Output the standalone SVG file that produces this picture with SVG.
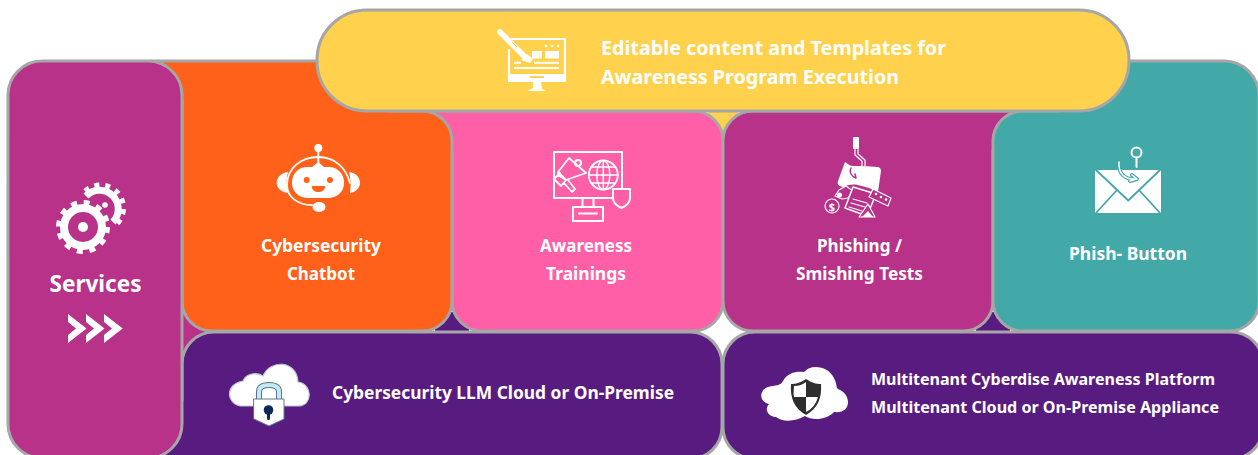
<svg xmlns="http://www.w3.org/2000/svg" width="1258" height="455" viewBox="0 0 1258 455">
<style>
svg{stroke-width:2;stroke-linecap:round;stroke-linejoin:round}
.card{stroke:#a6a6a6;stroke-width:3}
.t{font-family:"Noto Sans","Open Sans",sans-serif;font-weight:700;fill:#fff;stroke:none}
.w{fill:#fff;stroke:none}
.l{fill:none;stroke:#fff}
</style>
<rect width="1258" height="455" fill="#fff"/>
<g id="backing">
<rect x="435" y="312" width="34" height="26" fill="#581c80"/>
<rect x="976" y="312" width="34" height="26" fill="#581c80"/>
<rect x="170" y="295" width="50" height="70" fill="#b8328a"/>
<rect x="708" y="105" width="30" height="36" fill="#ffd14d"/>
</g>
<g id="llm-cloud">
<path class="card" d="M214 332H690A32 32 0 0 1 722 364V427A32 32 0 0 1 690 459H150V400H182V364A32 32 0 0 1 214 332Z" fill="#581c80"/>
<g id="cloud-lock">
<path d="M240 406C226 403 225 384 243 381C246 373 257 372 263 376C270 359 297 360 298 382C313 384 313 406 298 406Z" fill="#fff" stroke="#b9c7d2" stroke-width="1.200"/>
<path d="M259 400V392C259 387 263 385 269 385C275 385 279 387 279 392V400" fill="none" stroke="#58758c" stroke-width="6"/>
<path d="M259 400V392C259 387 263 385 269 385C275 385 279 387 279 392V400" fill="none" stroke="#c4e9f2" stroke-width="4"/>
<path d="M254 399H284V419L269 426L254 419Z" fill="#fff" stroke="#5d7a90" stroke-width="1"/>
<circle cx="268.500" cy="410" r="4.800" fill="#0a2a55"/>
<rect x="267" y="411" width="3" height="9" rx="1.500" fill="#0a2a55"/>
</g>
<text class="t" x="332" y="399" font-size="18" textLength="342" lengthAdjust="spacingAndGlyphs">Cybersecurity LLM Cloud or On-Premise</text>
</g>
<g id="platform">
<rect class="card" x="723" y="332" width="540" height="127" rx="32" fill="#581c80"/>
<g id="cloud-shield">
<path d="M776 417C766 416 765 408 769 404C758 402 758 387 773 386C780 385 781 384 783 381C788 372 797 371 804 372C810 364 828 365 834 378C838 386 835 388 840 390C852 396 851 414 834 412C827 420 812 421 805 416C795 422 782 422 776 417Z" fill="#fff"/>
<path d="M806 379C812 383 816 384 821 384C822 398 818 408 806 415C794 408 790 398 791 384C796 384 800 383 806 379Z" fill="#2e2e2e"/>
<path d="M806 382V397H794C793 393 794 390 794 386C798 386 802 385 806 382ZM806 397H818C816 404 812 409 806 412Z" fill="#fff"/>
</g>
<text class="t" x="871" y="385" font-size="16.500" textLength="344" lengthAdjust="spacingAndGlyphs">Multitenant Cyberdise Awareness Platform</text>
<text class="t" x="871" y="413" font-size="16.500" textLength="348" lengthAdjust="spacingAndGlyphs">Multitenant Cloud or On-Premise Appliance</text>
</g>
<g id="awareness-trainings">
<path class="card" d="M430 111H693A30 30 0 0 1 723 141V301A30 30 0 0 1 693 331H482A30 30 0 0 1 452 301V150H430Z" fill="#ff5fa6"/>
<g id="awareness-icon">
<rect class="l" x="554" y="152" width="68" height="46"/>
<path class="l" d="M582.500 198V207M593.500 198V207"/>
<rect class="l" x="573" y="207" width="30" height="14"/>
<path class="l" d="M579 213.500H597"/>
<path class="l" d="M569 158L586 173L566 180L558 172ZM558 172L558 175L566 180M560 175L559 172M564 183L572 192L575 189L568 180M560 173L554 179L561 186L566 180" stroke-width="1.800"/>
<circle class="l" cx="578" cy="163" r="3"/>
<circle class="l" cx="603.300" cy="175" r="14.500" stroke-width="1.800"/>
<ellipse class="l" cx="603.300" cy="175" rx="6.500" ry="14.500" stroke-width="1.500"/>
<path class="l" d="M588.800 175H617.800M591 167H615.500M591 183H615.500M603.300 160.500V189.500" stroke-width="1.500"/>
<path d="M613 189H630V198C630 203 626 206 621.500 208C617 206 613 203 613 198Z" fill="#ff5fa6" stroke="#fff" stroke-width="2"/>
</g>
<text class="t" x="540" y="252" font-size="18" textLength="92" lengthAdjust="spacingAndGlyphs">Awareness</text>
<text class="t" x="546" y="280" font-size="18" textLength="80" lengthAdjust="spacingAndGlyphs">Trainings</text>
</g>
<g id="phishing">
<path class="card" d="M753 111H1030V150H993V301A30 30 0 0 1 963 331H753A30 30 0 0 1 723 301V141A30 30 0 0 1 753 111Z" fill="#b8328a"/>
<g id="phishing-icon">
<rect class="w" x="853" y="137" width="6" height="12" rx="1"/>
<path class="l" d="M855 149V155L862 161V167M858 149V154L865 160V166" stroke-width="1.200"/>
<path class="w" d="M845 162C848 164 850 166 853 166C858 166 870 166 877 167C880 167 881 169 881 171L878 192L869 188L858 185C852 184 847 185 843 187C838 186 837 184 838 181Z"/>
<path d="M851 168C849 172 851 176 856 178M856 178L855 174" fill="none" stroke="#b8328a" stroke-width="1.500"/>
<path d="M839 190L846 186L853 191L848 198L842 199L835 196Z" fill="#b8328a" stroke="#fff" stroke-width="1.200"/>
<circle class="w" cx="839.500" cy="195" r="2.500"/>
<path d="M853 187L876 194L867 216L845 208Z" fill="#b8328a" stroke="#fff" stroke-width="1.500"/>
<path class="l" d="M853 199L867 203M851 203L865 207M849 207L862 211" stroke-width="1.200"/>
<circle class="l" cx="832" cy="206" r="7" stroke-width="1.200"/>
<text class="t" x="832" y="210.500" font-size="11" text-anchor="middle">$</text>
<path d="M873 189L891 198L888 206L869 197Z" fill="#b8328a" stroke="#fff" stroke-width="1.200"/>
<circle class="w" cx="876" cy="194" r="1.300"/><circle class="w" cx="881" cy="197" r="1.300"/><circle class="w" cx="886" cy="199.500" r="1.300"/>
<path d="M859 217L868 204L875 217Z" fill="#b8328a" stroke="#fff" stroke-width="1.200"/>
<path class="w" d="M862 217L868 211L873 217Z"/>
</g>
<text class="t" x="817" y="252" font-size="18" textLength="85" lengthAdjust="spacingAndGlyphs">Phishing /</text>
<text class="t" x="796" y="280" font-size="18" textLength="127" lengthAdjust="spacingAndGlyphs">Smishing Tests</text>
</g>
<g id="phish-button">
<path class="card" d="M1060 61H1224A35 35 0 0 1 1259 96V301A30 30 0 0 1 1229 331H1023A30 30 0 0 1 993 301V141A30 30 0 0 1 1023 111H1060Z" fill="#43a8a8"/>
<g id="mail-icon">
<circle class="l" cx="1136.500" cy="152.500" r="5"/>
<path class="l" d="M1136.500 157.500V167"/>
<rect class="w" x="1095" y="170" width="66" height="43"/>
<path d="M1096 170L1128.300 200.500L1160 170M1096 213L1117 190M1160 213L1139 190" fill="none" stroke="#43a8a8" stroke-width="1.800"/>
<path d="M1119 162C1118 174 1125 180 1137 179M1132 175L1137 179L1130 181" fill="none" stroke="#43a8a8" stroke-width="4"/>
<path d="M1119 162C1118 174 1125 180 1137 179M1132 175L1137 179L1130 181" fill="none" stroke="#fff" stroke-width="1.500"/>
</g>
<text class="t" x="1069" y="260" font-size="18" textLength="118" lengthAdjust="spacingAndGlyphs">Phish- Button</text>
</g>
<g id="chatbot">
<path class="card" d="M150 61H390V111H422A30 30 0 0 1 452 141V301A30 30 0 0 1 422 331H212A30 30 0 0 1 182 301V100H150Z" fill="#ff611a"/>
<g id="robot-icon">
<circle class="w" cx="318.300" cy="148" r="4"/>
<path class="l" d="M318.300 150V163"/>
<path class="w" d="M318.300 162L324 167H312Z"/>
<rect class="w" x="292" y="167" width="52" height="31" rx="15"/>
<circle cx="306.700" cy="180" r="3" fill="#ff611a"/>
<circle cx="330" cy="180" r="3" fill="#ff611a"/>
<path d="M311.700 186H325C325 190 322 192 318.300 192C315 192 311.700 190 311.700 186Z" fill="#ff611a"/>
<path class="l" d="M287 185C287 168 301 157 318.300 157C335 157 346 168 350 183M287 185C287 198 299 205 312 205" stroke-width="1.800"/>
<ellipse class="w" cx="319" cy="207" rx="6.500" ry="5"/>
<path class="w" d="M288 172C281 173 276.700 177 276.700 183C276.700 188 281 192 288 193C286 186 286 179 288 172Z"/>
<path class="w" d="M349 172C356 173 360 177 360 183C360 188 356 192 350 193C351 186 351 179 349 172Z"/>
</g>
<text class="t" x="261" y="252" font-size="18" textLength="120" lengthAdjust="spacingAndGlyphs">Cybersecurity</text>
<text class="t" x="287" y="280" font-size="18" textLength="68" lengthAdjust="spacingAndGlyphs">Chatbot</text>
</g>
<g id="services">
<rect class="card" x="8" y="61" width="174" height="397" rx="34" fill="#b8328a"/>
<g id="gears-icon">
<path d="M86 196A17 17 0 1 1 113 222" fill="none" stroke="#fff" stroke-width="7" stroke-linecap="butt"/>
<path d="M85 191A22 22 0 1 1 116 225" fill="none" stroke="#fff" stroke-width="5" stroke-dasharray="5 5.800" stroke-linecap="butt"/>
<circle class="w" cx="105" cy="205" r="2.800"/>
<circle cx="83" cy="227" r="19" fill="none" stroke="#fff" stroke-width="8"/>
<circle cx="83" cy="227" r="24.500" fill="none" stroke="#fff" stroke-width="5" stroke-dasharray="6 6.830" stroke-linecap="butt"/>
<circle class="w" cx="83" cy="227" r="5"/>
</g>
<text class="t" x="49.500" y="292" font-size="23" textLength="92" lengthAdjust="spacingAndGlyphs">Services</text>
<g id="chevrons" class="w">
<path d="M68 314L86.500 328.500L68 343V335L76 328.500L68 322Z"/>
<path d="M86 314L104.500 328.500L86 343V335L94 328.500L86 322Z"/>
<path d="M104 314L122.700 328.500L104 343V335L112 328.500L104 322Z"/>
</g>
</g>
<g id="editable-content">
<rect class="card" x="317" y="10" width="812" height="101" rx="50" fill="#ffd14d"/>
<g id="editor-icon">
<path class="l" d="M512 39H565V81H509V50" stroke-width="2.200"/>
<rect class="w" x="508" y="74" width="58" height="8" rx="1"/>
<rect x="530" y="76" width="14" height="2" fill="#ffd14d"/>
<path class="w" d="M533 82H541L542 88H533ZM527 91L535 87H539L546 91Z"/>
<path d="M500 32L525 57" fill="none" stroke="#fff" stroke-width="5.500" stroke-linecap="round"/>
<path class="w" d="M521 60L527 54L533 59L530 63Z"/>
<path d="M512 42L517 47" stroke="#ffd14d" stroke-width="1"/>
<rect class="w" x="532" y="51" width="10" height="7.500"/>
<rect class="w" x="545" y="51" width="14" height="7.500"/>
<circle class="w" cx="546" cy="46" r="1.300"/><circle class="w" cx="552" cy="46" r="1.300"/><circle class="w" cx="558" cy="46" r="1.300"/>
<path class="l" d="M514 62.700H521M534 62.700H559M514 68H559" stroke-linecap="butt"/>
</g>
<text class="t" x="601" y="55" font-size="20" textLength="345" lengthAdjust="spacingAndGlyphs">Editable content and Templates for</text>
<text class="t" x="601" y="84" font-size="20" textLength="298" lengthAdjust="spacingAndGlyphs">Awareness Program Execution</text>
</g>
</svg>
